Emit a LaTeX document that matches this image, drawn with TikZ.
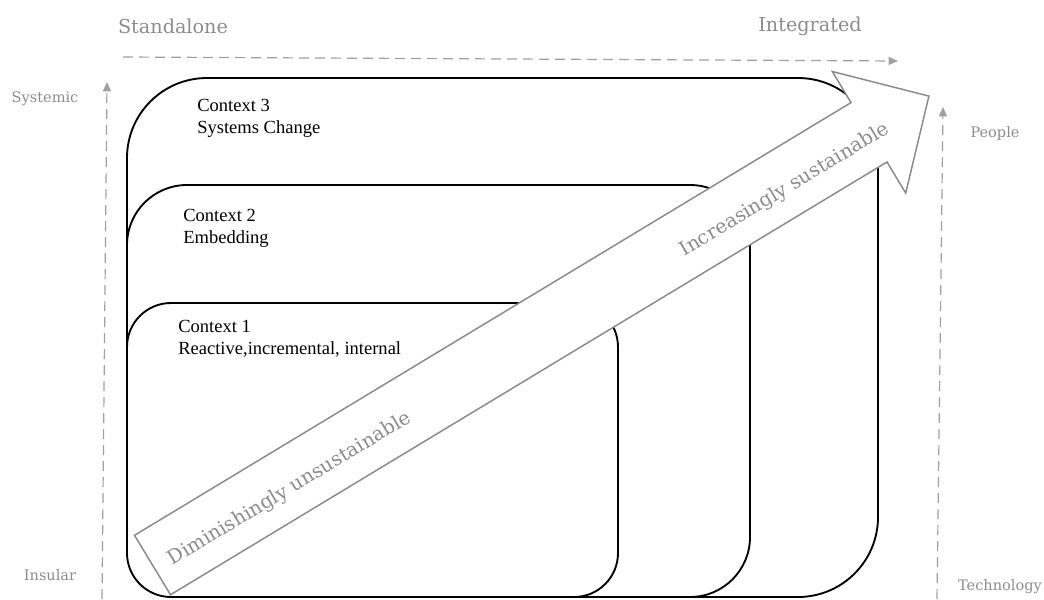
\documentclass[tikz,border=0pt]{standalone}
\usepackage{fontspec}
\setmainfont{Liberation Serif}
\newfontfamily\axisfont{DejaVu Serif}
\usetikzlibrary{arrows.meta}
\definecolor{axisgray}{HTML}{A0A0A0}
\definecolor{textgray}{HTML}{8C8C8C}
\definecolor{arrowgray}{HTML}{8A8A8A}

\begin{document}
\begin{tikzpicture}[x=0.75pt,y=-0.75pt,
  ctxbox/.style={draw=black,line width=1.4pt,fill=white},
  ctxtext/.style={anchor=base west,align=left,inner sep=0pt,font=\fontsize{13.9}{16}\selectfont},
  axis/.style={draw=axisgray,line width=0.9pt,dash pattern=on 7.5pt off 4.5pt,-{Triangle[length=7pt,width=6pt]}},
  axislabel/.style={text=textgray,inner sep=0pt,font=\axisfont\fontsize{10.9}{13}\selectfont},
  headlabel/.style={text=textgray,inner sep=0pt,font=\axisfont\fontsize{14.4}{17}\selectfont},
  bigarrow/.style={draw=arrowgray,line width=1.1pt,fill=white},
  arrowtext/.style={text=textgray,inner sep=0pt,rotate=31.1,font=\axisfont\fontsize{14.6}{17}\selectfont}]
\useasboundingbox (0,0) rectangle (1044,599);
 % axes
  \node (std) at (173,26) [headlabel] {Standalone};
  \node (int) at (810,26) [headlabel] {Integrated};
  \node (sys) at (45,99) [axislabel] {Systemic};
  \node (ins) at (50,575) [axislabel] {Insular};
  \node (ppl) at (995,133) [axislabel] {People};
  \node (tec) at (1000,587) [axislabel] {Technology};
  \coordinate (h0) at (123,57);
  \coordinate (h1) at (898,61);
  \coordinate (l0) at (102,599);
  \coordinate (l1) at (107,82);
  \coordinate (r0) at (937,599);
  \coordinate (r1) at (943,107);
  \draw[axis] (h0) -- (h1);
  \draw[axis] (l0) -- (l1);
  \draw[axis] (r0) -- (r1);
 % contexts
  \draw[ctxbox,rounded corners=60pt] (127,597) rectangle (878,78);
  \draw[ctxbox,rounded corners=45pt] (127,597) rectangle (750,185);
  \draw[ctxbox,rounded corners=33pt] (127,597) rectangle (618,303);
  \node (c3) at (197,133) [ctxtext] {Context 3\\Systems Change};
  \node (c2) at (183,243) [ctxtext] {Context 2\\Embedding};
  \node (c1) at (178,354) [ctxtext] {Context 1\\Reactive,incremental, internal};
 % arrow
  \draw[bigarrow] (134.5,535.3) -- (851,102.6) -- (832.3,71.5) -- (928.9,96.1)
    -- (905.7,193.1) -- (887,162) -- (170.5,594.75) -- cycle;
  \node (dim) at (290,489) [arrowtext] {Diminishingly unsustainable};
  \node (inc) at (785,190) [arrowtext] {Increasingly sustainable};
\end{tikzpicture}
\end{document}
